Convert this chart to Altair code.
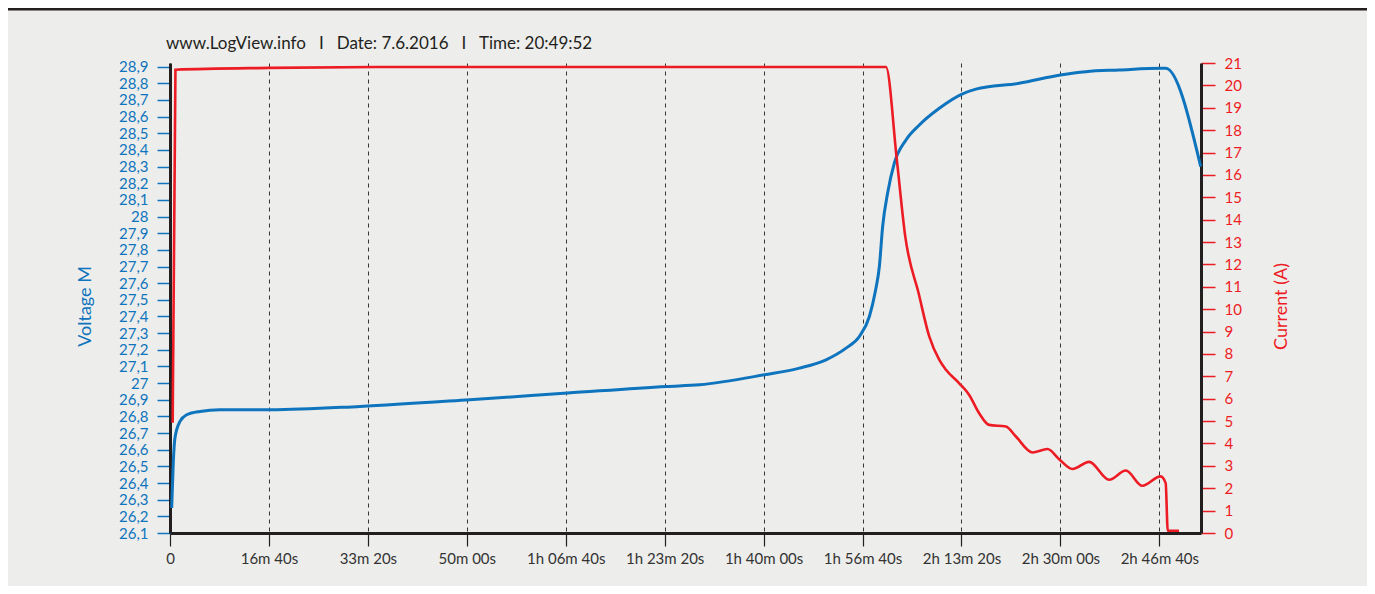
import altair as alt
import pandas as pd

# ---- data (time in seconds) ----
volt_t = [17, 33, 50, 101, 169, 303, 505, 1020, 1919, 3029, 4019, 5019, 5352, 6008,
          6362, 6631, 6833, 6968, 7069, 7129, 7170, 7203, 7253, 7321, 7439, 7574,
          7776, 8005, 8146, 8583, 9000, 9257, 9593, 10030, 10064, 10418]
volt_v = [26.25, 26.52, 26.67, 26.77, 26.81, 26.83, 26.84, 26.84, 26.86, 26.90, 26.94,
          26.98, 26.99, 27.05, 27.09, 27.14, 27.21, 27.28, 27.40, 27.55, 27.70, 27.94,
          28.14, 28.32, 28.46, 28.55, 28.65, 28.735, 28.765, 28.80, 28.85, 28.87,
          28.88, 28.89, 28.89, 28.30]

cur_t = [27, 55, 1000, 2300, 7237, 7347, 7432, 7567, 7675, 7776, 7843, 7977, 8078,
         8179, 8280, 8449, 8550, 8718, 8869, 8987, 9122, 9290, 9492, 9661, 9828,
         10013, 10064, 10085, 10199]
cur_a = [4.93, 20.70, 20.78, 20.82, 20.82, 16.66, 13.24, 10.71, 8.77, 7.73, 7.29, 6.69,
         6.17, 5.35, 4.83, 4.76, 4.31, 3.60, 3.75, 3.30, 2.86, 3.18, 2.38, 2.79, 2.11,
         2.53, 2.23, 0.10, 0.10]

x_tick_values = [0, 1000, 2000, 3000, 4000, 5000, 6000, 7000, 8000, 9000, 10000]
x_tick_labels = ["0", "16m 40s", "33m 20s", "50m 00s", "1h 06m 40s", "1h 23m 20s",
                 "1h 40m 00s", "1h 56m 40s", "2h 13m 20s", "2h 30m 00s", "2h 46m 40s"]
v_tick_values = [26.1, 26.2, 26.3, 26.4, 26.5, 26.6, 26.7, 26.8, 26.9, 27.0, 27.1, 27.2,
                 27.3, 27.4, 27.5, 27.6, 27.7, 27.8, 27.9, 28.0, 28.1, 28.2, 28.3, 28.4,
                 28.5, 28.6, 28.7, 28.8, 28.9]
a_tick_values = list(range(0, 22))

SEP = "\u00a0\u00a0\u00a0I\u00a0\u00a0\u00a0"
title_parts = ["www.LogView.info", "Date: 7.6.2016", "Time: 20:49:52"]
title_text = SEP.join(title_parts)

BLUE = "#0e74bd"
RED = "#ed1c24"
DARK = "#231f20"
BG = "#ededeb"
FONT = "Lato"

W, H = 1031, 470
PAD = {"left": 162, "top": 55, "right": 166, "bottom": 53}

volt_df = pd.DataFrame({"t": volt_t, "v": volt_v})
cur_df = pd.DataFrame({"t": cur_t, "a": cur_a})
one = pd.DataFrame({"k": [0]})

label_map = "{" + ",".join(f"'{v}':'{l}'" for v, l in zip(x_tick_values, x_tick_labels)) + "}"

x_enc = alt.X(
    "t:Q",
    scale=alt.Scale(domain=[0, 10421], nice=False, zero=False),
    axis=alt.Axis(
        values=x_tick_values, labelExpr=f"{label_map}[''+datum.value]",
        title=None, grid=True, gridDash=[4, 4], gridColor=DARK, gridWidth=1,
        gridOpacity=0.9, domainColor=DARK, domainWidth=3, tickColor=DARK,
        tickSize=13, tickWidth=1.2, labelPadding=5, labelColor="#333333",
        labelFontSize=15, labelFont=FONT, labelFlush=False, labelOverlap=False,
    ),
)

blue = alt.Chart(volt_df).mark_line(
    color=BLUE, strokeWidth=3, interpolate="monotone"
).encode(
    x=x_enc,
    y=alt.Y(
        "v:Q",
        scale=alt.Scale(domain=[26.1, 28.922], nice=False, zero=False),
        axis=alt.Axis(
            orient="left", values=v_tick_values,
            labelExpr="replace(format(datum.value, '.1~f'), '.', ',')",
            grid=False, domainColor=DARK, domainWidth=3, tickColor=BLUE,
            tickSize=13, tickWidth=1.5, labelPadding=9, labelColor=BLUE,
            labelFontSize=15, labelFont=FONT, labelOverlap=False, labelFlush=False,
            title="Voltage M", titleColor=BLUE, titleFont=FONT, titleFontSize=18,
            titleFontWeight="normal", titleAngle=270, titleX=-85, titleY=243,
            titleAlign="center", titleBaseline="middle",
        ),
    ),
)

red = alt.Chart(cur_df).mark_line(
    color=RED, strokeWidth=2.6, interpolate="monotone"
).encode(
    x=alt.X("t:Q"),
    y=alt.Y(
        "a:Q",
        scale=alt.Scale(domain=[0, 21], nice=False, zero=False),
        axis=alt.Axis(
            orient="right", values=a_tick_values, format="d",
            grid=False, domainColor=DARK, domainWidth=3, tickColor=RED,
            tickSize=14, tickWidth=1.5, labelPadding=9, labelColor=RED,
            labelFontSize=15, labelFont=FONT, labelOverlap=False, labelFlush=False,
            title="Current (A)", titleColor=RED, titleFont=FONT, titleFontSize=18,
            titleFontWeight="normal", titleAngle=270, titleX=80, titleY=243,
            titleAlign="center", titleBaseline="middle",
        ),
    ),
)

title = alt.Chart(one).mark_text(
    text=title_text, align="left", baseline="alphabetic",
    font=FONT, fontSize=17, color="#231f20",
).encode(x=alt.value(-4), y=alt.value(-14))

topbar = alt.Chart(one).mark_rule(color=DARK, strokeWidth=3).encode(
    x=alt.value(-PAD["left"]), x2=alt.value(W + PAD["right"]), y=alt.value(-PAD["top"] + 1)
)

chart = alt.layer(blue, red, title, topbar).resolve_scale(y="independent").properties(
    width=W, height=H, padding=PAD, autosize="none", background=BG
).configure_view(stroke=None)

chart.save("out.html", embed_options={"renderer": "svg", "actions": False})
